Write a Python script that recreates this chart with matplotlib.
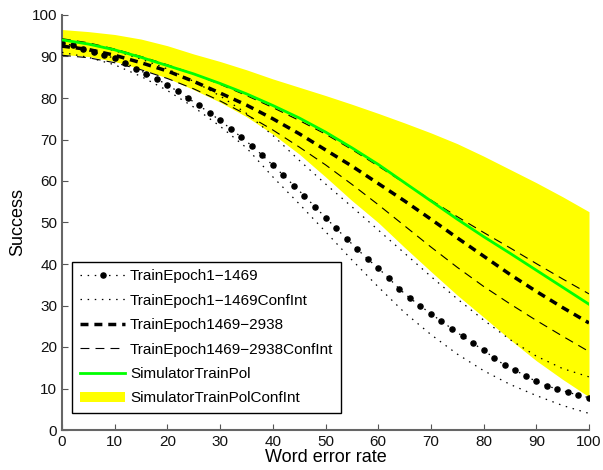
import numpy as np
import matplotlib.pyplot as plt

plt.rcParams['font.family'] = ['Liberation Sans', 'DejaVu Sans']

# word error rate grid for the smooth curves
wer = [0, 5, 10, 15, 20, 25, 30, 35, 40, 45, 50,
       55, 60, 65, 70, 75, 80, 85, 90, 95, 100]

# SimulatorTrainPol and its confidence band
sim_mean = [94.0, 93.0, 91.6, 89.8, 87.8, 85.8, 83.5, 81.0, 78.2, 75.2, 71.8,
            68.0, 64.0, 59.6, 55.2, 50.8, 46.6, 42.6, 38.5, 34.4, 30.3]
sim_upper = [96.5, 96.0, 95.3, 94.2, 92.6, 90.6, 88.8, 86.8, 84.6, 82.6, 80.6,
             78.5, 76.3, 74.0, 71.6, 69.0, 66.0, 62.8, 59.6, 56.2, 52.6]
sim_lower = [90.5, 90.0, 88.8, 87.0, 84.8, 82.0, 79.0, 75.5, 71.3, 66.5, 61.0,
             55.3, 50.0, 44.0, 38.2, 32.5, 27.2, 21.8, 16.7, 12.2, 8.0]

# TrainEpoch1469-2938
ep2_mean = [92.5, 91.7, 90.3, 88.5, 86.5, 84.0, 81.2, 78.3, 75.0, 71.4, 67.5,
            63.6, 59.4, 55.2, 50.8, 46.3, 41.9, 37.5, 33.4, 29.5, 25.8]
ep2_upper = [94.3, 93.3, 91.8, 90.0, 88.0, 85.8, 83.3, 80.6, 77.7, 74.6, 71.3,
             67.6, 63.6, 59.5, 55.4, 51.4, 47.6, 43.9, 40.1, 36.4, 32.8]
ep2_lower = [90.3, 89.7, 88.5, 86.8, 84.7, 82.2, 79.3, 76.0, 72.3, 68.2, 63.9,
             59.2, 54.3, 49.2, 44.1, 39.2, 34.6, 30.4, 26.4, 22.6, 18.9]

# TrainEpoch1-1469 confidence interval
ep1_upper = [94.0, 93.0, 91.4, 89.4, 87.0, 84.0, 80.5, 76.3, 71.0, 65.0, 59.3,
             53.8, 48.2, 42.6, 37.0, 31.6, 26.5, 21.8, 17.8, 14.8, 12.8]
ep1_lower = [91.0, 89.8, 88.0, 85.2, 81.8, 77.8, 73.2, 68.0, 61.0, 54.5, 47.8,
             41.0, 34.5, 28.3, 23.0, 18.3, 14.3, 11.0, 8.3, 5.9, 4.0]

# TrainEpoch1-1469 mean (denser sampling, drawn with markers)
wer_fine = list(range(0, 101, 2))
ep1_mean = [93.3, 92.7, 91.8, 91.0, 90.3, 89.6, 88.5, 87.1, 85.9, 84.6,
            83.1, 81.6, 79.9, 78.2, 76.4, 74.6, 72.6, 70.6, 68.5, 66.2,
            63.8, 61.4, 58.9, 56.4, 53.8, 51.2, 48.6, 46.1, 43.6, 41.2,
            39.0, 36.6, 34.0, 31.8, 29.9, 28.0, 26.2, 24.4, 22.6, 20.9,
            19.2, 17.4, 15.6, 14.4, 13.0, 11.7, 10.6, 9.9, 9.1, 8.4,
            7.8]

fig = plt.figure(figsize=(6.03, 4.70), dpi=100)
ax = fig.add_axes([62 / 603, 40 / 470, 527 / 603, 415 / 470])

dotted = (0, (1.2, 4.5))
thick_dash = (0, (2.3, 1.7))
thin_dash = (0, (8, 5.5))

ax.fill_between(wer, sim_lower, sim_upper, color='#ffff00', lw=0, zorder=1,
                label='SimulatorTrainPolConfInt')

ax.plot(wer_fine, ep1_mean, color='k', ls=dotted, lw=0.9, marker='o', ms=3.7,
        label='TrainEpoch1\u22121469', zorder=3)
ax.plot(wer, ep1_upper, color='k', ls=dotted, lw=0.9,
        label='TrainEpoch1\u22121469ConfInt', zorder=3)
ax.plot(wer, ep1_lower, color='k', ls=dotted, lw=0.9, zorder=3)
ax.plot(wer, ep2_mean, color='k', ls=thick_dash, lw=2.5,
        label='TrainEpoch1469\u22122938', zorder=3)
ax.plot(wer, ep2_upper, color='k', ls=thin_dash, lw=0.8,
        label='TrainEpoch1469\u22122938ConfInt', zorder=3)
ax.plot(wer, ep2_lower, color='k', ls=thin_dash, lw=0.8, zorder=3)
ax.plot(wer, sim_mean, color='#00ff00', lw=2, label='SimulatorTrainPol',
        zorder=4)

ax.set_xlim(0, 100)
ax.set_ylim(0, 100)
ax.set_xticks(range(0, 101, 10))
ax.set_yticks(range(0, 101, 10))
ax.tick_params(direction='in', length=4, labelsize=11, colors='#555555',
               labelcolor='#111111')
for side in ['top', 'right']:
    ax.spines[side].set_visible(False)
for side in ['left', 'bottom']:
    ax.spines[side].set_color('#666666')
    ax.spines[side].set_linewidth(1.5)

ax.set_xlabel('Word error rate', fontsize=13, labelpad=0)
ax.set_ylabel('Success', fontsize=13, labelpad=4)

handles, labels = ax.get_legend_handles_labels()
order = [1, 2, 3, 4, 5, 0]
leg = ax.legend([handles[i] for i in order], [labels[i] for i in order],
                loc='lower left', bbox_to_anchor=(0.019, 0.041),
                borderaxespad=0, fontsize=11, handlelength=3.0,
                handletextpad=0.3, labelspacing=0.68, fancybox=False,
                framealpha=1, edgecolor='k', borderpad=0.5)
leg.get_frame().set_linewidth(1.0)

fig.savefig('out.png', dpi=100)
